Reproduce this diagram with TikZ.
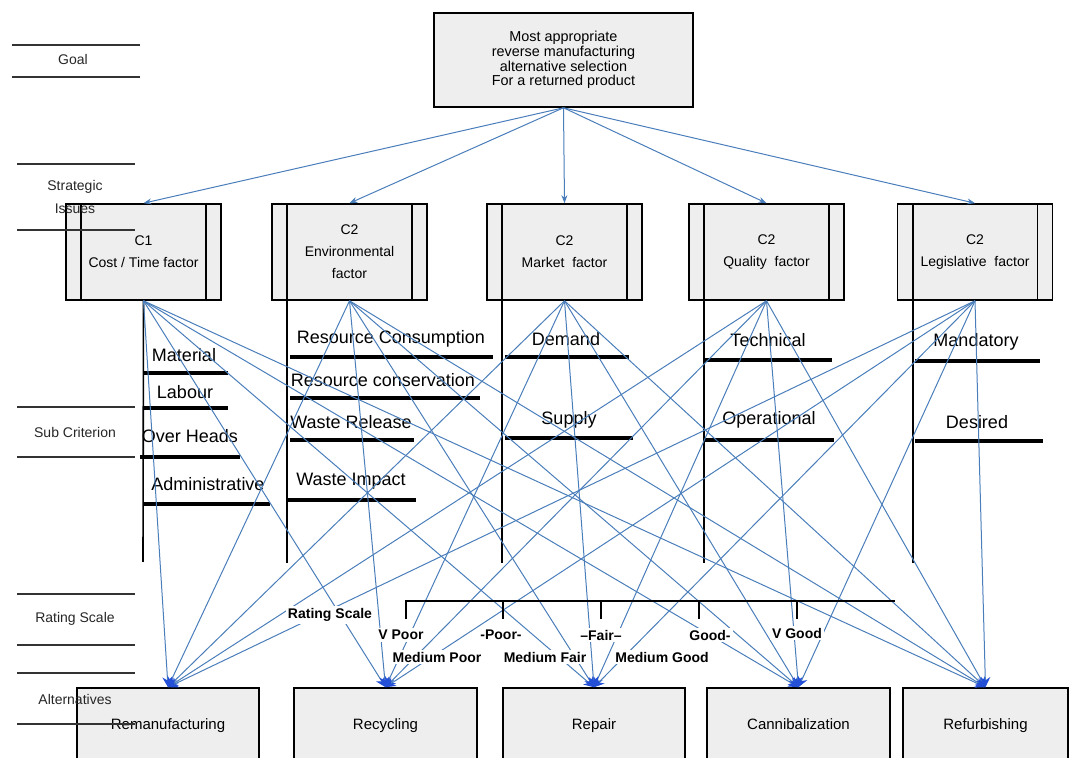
\documentclass[tikz,border=0pt]{standalone}
\usepackage{fontspec}
\setmainfont{Liberation Sans}
\usetikzlibrary{arrows.meta}

\definecolor{linkblue}{RGB}{74,126,187}
\definecolor{tipblue}{RGB}{35,80,215}
\definecolor{boxgray}{RGB}{238,238,238}

\begin{document}
\begin{tikzpicture}[
	x = 0.5pt, y = -0.5pt,
	every node/.style = {align=center, font=\fontsize{7}{11}\selectfont},
	goalbox/.style = {draw, thick, fill=boxgray, minimum width=129.5pt, minimum height=47pt, font=\fontsize{7.2}{7.4}\selectfont},
	critbox/.style = {draw, thick, fill=boxgray, minimum width=77.5pt, minimum height=48pt},
	altbox/.style = {draw, thick, fill=boxgray, minimum height=36pt, text height=0.75em, text depth=0.25em, font=\fontsize{7.5}{9}\selectfont},
	subtxt/.style = {inner sep=0pt, font=\fontsize{9}{10}\selectfont},
	subline/.style = {line width=2pt},
	ratetxt/.style = {fill=white, inner sep=1pt, font=\fontsize{7}{8}\selectfont\bfseries},
	sidetxt/.style = {text=black!85, font=\fontsize{7}{11.5}\selectfont},
	sideline/.style = {line width=1pt, black!80},
	goallink/.style = {linkblue, line width=0.5pt, -{Stealth[length=4pt, width=3pt, color=linkblue]}},
	link/.style = {linkblue, line width=0.5pt, -{Stealth[length=5pt, width=5pt, color=tipblue]}}
	]
	\useasboundingbox (0,0) rectangle (1071,758);

	% goal
	\node[goalbox] (goal) at (563.5,60) {Most appropriate\\reverse manufacturing\\alternative selection\\For a returned product};

	% strategic issues
	\node[critbox] (cost) at (143.5,252) {C1\\Cost / Time factor};
	\node[critbox] (envi) at (349.5,252) {C2\\Environmental\\factor};
	\node[critbox] (mark) at (564.5,252) {C2\\Market\ \ factor};
	\node[critbox] (qual) at (766.5,252) {C2\\Quality\ \ factor};
	\node[critbox] (legi) at (975,252) {C2\\Legislative\ \ factor};
	\foreach \c in {cost,envi,mark,qual,legi}{
		\draw[thick] ([xshift=8pt]\c.north west) -- ([xshift=8pt]\c.south west);
		\draw[thick] ([xshift=-8pt]\c.north east) -- ([xshift=-8pt]\c.south east);
	}

	% alternatives
	\node[altbox, minimum width=91pt] (reman) at (168,724) {Remanufacturing};
	\node[altbox, minimum width=91.5pt] (recyc) at (385.5,724) {Recycling};
	\node[altbox, minimum width=91pt] (repair) at (594,724) {Repair};
	\node[altbox, minimum width=91.5pt] (canni) at (798.5,724) {Cannibalization};
	\node[altbox, minimum width=82.5pt] (refur) at (985.5,724) {Refurbishing};

	% sub criterion stems
	\draw[thick] (cost.south) -- (143,562);
	\foreach \c in {envi,mark,qual,legi}
		\draw[thick] ([xshift=8pt]\c.south west) -- ++(0,262);

	% sub criterion
	\foreach \t/\tx/\ty/\la/\lb/\ly in {
		Material/184/355/143/228/373, Labour/185/392/143/228/408,
		Over Heads/190/436/140/240/457, Administrative/208/484/143/270/504,
		Resource Consumption/391/339/290/493/357, Resource conservation/383/380/290/480/398,
		Waste Release/351/422/290/414/440, Waste Impact/351/481/287/416/500,
		Demand/566/339/505/629/357, Supply/569/420/505/633/438,
		Technical/768/340/705/832/360, Operational/769/420/705/834/440,
		Mandatory/976/342/915/1040/361, Desired/977/422/915/1043/441}{
		\node[subtxt] at (\tx,\ty) {\t};
		\draw[subline] (\la,\ly) -- (\lb,\ly);
	}

	% links
	\foreach \c in {cost,envi,mark,qual,legi}
		\draw[goallink] (goal.south) -- (\c.north);
	\foreach \c in {cost,envi,mark,qual,legi}
		\foreach \a in {reman,recyc,repair,canni,refur}
			\draw[link] (\c.south) -- (\a.north);

	% rating scale
	\draw[line width=0.9pt] (406,619) -- (406,601) -- (895,601);
	\foreach \x in {503,601,699,797}
		\draw[line width=0.9pt] (\x,601) -- (\x,619);
	\node[ratetxt] (rs) at (330,615) {Rating Scale};
	\node[ratetxt] (vpoor) at (401,635) {V Poor};
	\node[ratetxt] (poor) at (501,635) {-Poor-};
	\node[ratetxt] (fair) at (601,635) {--Fair--};
	\node[ratetxt] (good) at (710,635) {Good-};
	\node[ratetxt] (vgood) at (797,633) {V Good};
	\node[ratetxt] (mpoor) at (437,657) {Medium Poor};
	\node[ratetxt] (mfair) at (545,657) {Medium Fair};
	\node[ratetxt] (mgood) at (662,657) {Medium Good};

	% side labels
	\draw[sideline] (12,45) -- (140,45) (12,77) -- (140,77);
	\foreach \y in {164,230,407,457,594,645,673,724}
		\draw[sideline] (17,\y) -- (135,\y);
	\node[sidetxt] (lgoal) at (73,60) {Goal};
	\node[sidetxt] (lstrat) at (75,197) {Strategic\\Issues};
	\node[sidetxt] (lsub) at (75,432) {Sub Criterion};
	\node[sidetxt] (lrate) at (75,619) {Rating Scale};
	\node[sidetxt] (lalt) at (75,699) {Alternatives};
\end{tikzpicture}
\end{document}
